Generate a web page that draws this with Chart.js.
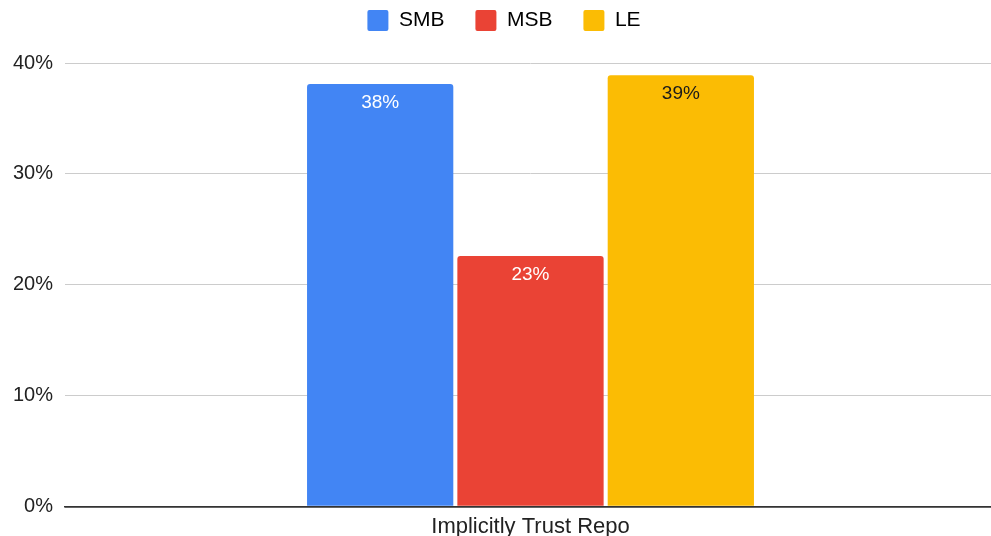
<!DOCTYPE html>
<html>
<head>
<meta charset="utf-8">
<script src="https://cdn.jsdelivr.net/npm/chart.js@4"></script>
<style>
html,body{margin:0;padding:0;background:#fff;overflow:hidden;}
#wrap{width:991px;height:536px;position:relative;overflow:hidden;}
</style>
</head>
<body>
<div id="wrap"><canvas id="c" width="996" height="536"></canvas></div>
<script>
const categories = ["Implicitly Trust Repo"];
const seriesNames = ["SMB", "MSB", "LE"];
const smbValues = [38.1];
const msbValues = [22.6];
const leValues = [38.9];
const yTicks = [0, 10, 20, 30, 40];
const colors = ["#4285F4", "#EA4335", "#FBBC04"];
const labelColors = ["#ffffff", "#ffffff", "#1a1a1a"];

const FONT = "'Liberation Sans', Arial, Helvetica, sans-serif";

const valueLabels = {
  id: 'valueLabels',
  afterDatasetsDraw(chart) {
    const ctx = chart.ctx;
    ctx.save();
    ctx.font = "19px " + FONT;
    ctx.textAlign = 'center';
    ctx.textBaseline = 'middle';
    chart.data.datasets.forEach((ds, i) => {
      const meta = chart.getDatasetMeta(i);
      meta.data.forEach((bar, j) => {
        ctx.fillStyle = labelColors[i];
        ctx.fillText(Math.round(ds.data[j]) + '%', bar.x, bar.y + 18.5);
      });
    });
    ctx.restore();
  }
};

new Chart(document.getElementById('c'), {
  type: 'bar',
  data: {
    labels: categories,
    datasets: [
      { label: seriesNames[0], data: smbValues, backgroundColor: colors[0] },
      { label: seriesNames[1], data: msbValues, backgroundColor: colors[1] },
      { label: seriesNames[2], data: leValues, backgroundColor: colors[2] }
    ].map(d => Object.assign(d, {
      borderRadius: { topLeft: 3, topRight: 3, bottomLeft: 0, bottomRight: 0 },
      borderSkipped: 'start',
      categoryPercentage: 0.4844,
      barPercentage: 0.973
    }))
  },
  options: {
    responsive: false,
    animation: false,
    devicePixelRatio: 1,
    layout: { padding: { left: 12, right: 0, top: -21, bottom: -11 } },
    plugins: {
      legend: {
        position: 'top',
        align: 'center',
        labels: {
          boxWidth: 21,
          boxHeight: 21,
          padding: 31,
          color: '#222',
          font: { family: FONT, size: 21 },
          generateLabels(chart) {
            return chart.data.datasets.map((d, i) => ({
              text: d.label,
              fillStyle: d.backgroundColor,
              strokeStyle: d.backgroundColor,
              lineWidth: 0,
              borderRadius: 2,
              datasetIndex: i
            }));
          }
        }
      },
      subtitle: {
        display: true,
        text: ' ',
        weight: 500,
        position: 'top',
        padding: { top: 5, bottom: 5 },
        font: { size: 10 }
      },
      tooltip: { enabled: false }
    },
    scales: {
      x: {
        grid: { display: false, drawTicks: false },
        border: { display: true, color: '#333', width: 1.5 },
        ticks: { color: '#222', font: { family: FONT, size: 22 }, padding: 7 }
      },
      y: {
        min: yTicks[0],
        max: yTicks[yTicks.length - 1],
        afterBuildTicks(axis) { axis.ticks = yTicks.map(v => ({ value: v })); },
        afterFit(axis) { axis.width = 53; },
        grid: {
          drawTicks: false,
          color: c => c.tick && c.tick.value === 0 ? '#333' : '#cccccc',
          lineWidth: c => c.tick && c.tick.value === 0 ? 1.5 : 1
        },
        border: { display: false },
        ticks: {
          color: '#222',
          font: { family: FONT, size: 20 },
          padding: 12,
          callback: v => v + '%'
        }
      }
    }
  },
  plugins: [valueLabels]
});
</script>
</body>
</html>
